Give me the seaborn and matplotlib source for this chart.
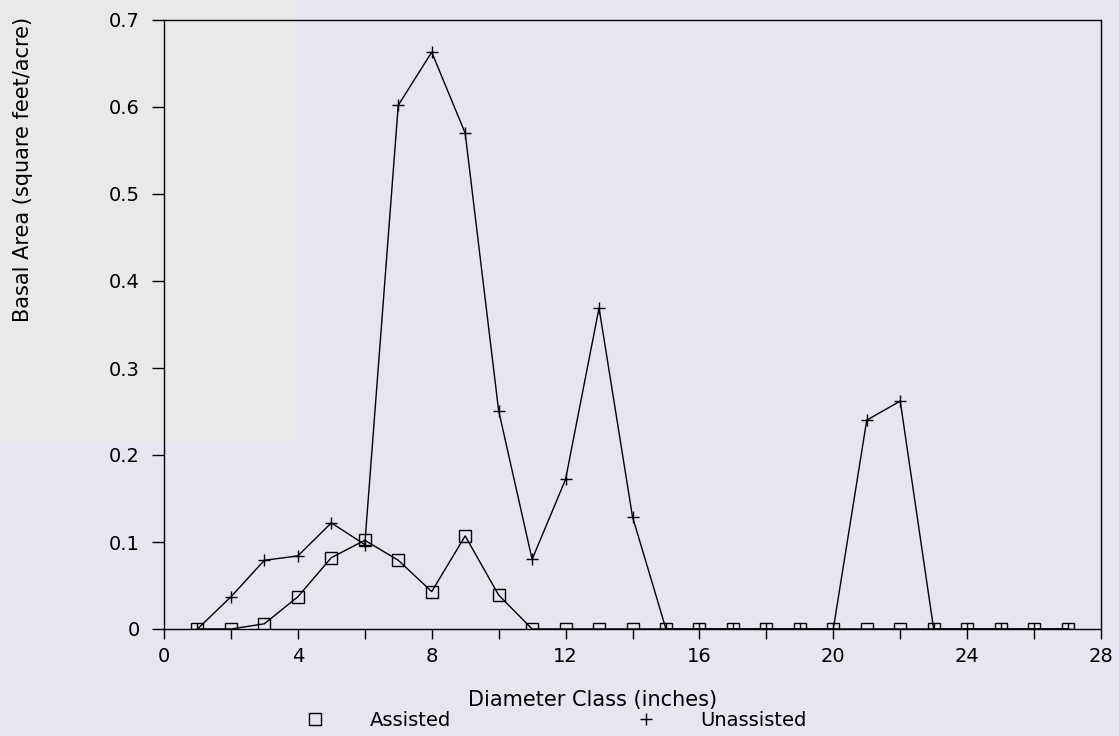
import matplotlib
matplotlib.use("Agg")
import matplotlib.pyplot as plt
import seaborn as sns
import pandas as pd
from matplotlib.lines import Line2D
from matplotlib.patches import Rectangle
from matplotlib.ticker import FuncFormatter, MultipleLocator

# Datos
diameter_class = list(range(1, 28))
assisted = [0, 0, 0.006, 0.037, 0.082, 0.102, 0.079, 0.043, 0.107, 0.039,
            0, 0, 0, 0, 0, 0, 0, 0, 0, 0, 0, 0, 0, 0, 0, 0, 0]
unassisted = [0, 0.037, 0.079, 0.084, 0.122, 0.097, 0.602, 0.663, 0.570, 0.251,
              0.080, 0.172, 0.369, 0.129, 0, 0, 0, 0, 0, 0, 0.240, 0.262, 0,
              0, 0, 0, 0]
series_names = ["Assisted", "Unassisted"]

df = pd.DataFrame({
    "Diameter": diameter_class * 2,
    "Basal": assisted + unassisted,
    "Serie": [series_names[0]] * len(diameter_class) + [series_names[1]] * len(diameter_class),
})

sns.set_theme(style="ticks")
plt.rcParams["font.family"] = ["DejaVu Sans"]

bg = "#e6e6f0"
fig = plt.figure(figsize=(11.19, 7.36), dpi=100, facecolor=bg)
# zona gris del escaneo (arriba a la izquierda)
fig.patches.append(Rectangle((0, 1 - 442 / 736), 296 / 1119, 442 / 736,
                             transform=fig.transFigure, facecolor="#e9e9e7",
                             edgecolor="none", zorder=-5))
ax = fig.add_axes([164 / 1119, 1 - 629 / 736, (1101 - 164) / 1119, (629 - 20) / 736])
ax.set_facecolor("none")

sns.lineplot(data=df[df["Serie"] == "Assisted"], x="Diameter", y="Basal", ax=ax,
             color="black", linewidth=1.0, marker="s", markersize=8,
             markerfacecolor="none", markeredgecolor="black", markeredgewidth=1.0,
             legend=False)
sns.lineplot(data=df[df["Serie"] == "Unassisted"], x="Diameter", y="Basal", ax=ax,
             color="black", linewidth=1.0, marker="+", markersize=9,
             markeredgecolor="black", markeredgewidth=1.0, legend=False)

ax.set_xlim(0, 28)
ax.set_ylim(0, 0.7)
ax.xaxis.set_major_locator(MultipleLocator(4))
ax.xaxis.set_minor_locator(MultipleLocator(2))
ax.yaxis.set_major_locator(MultipleLocator(0.1))
ax.yaxis.set_major_formatter(FuncFormatter(lambda v, p: "0" if abs(v) < 1e-9 else f"{v:.1f}"))

for s in ax.spines.values():
    s.set_visible(True)
    s.set_color("black")
    s.set_linewidth(1.0)

ax.tick_params(axis="y", which="major", direction="out", length=8.5, width=1.0,
               pad=9, labelsize=14, labelcolor="black", color="black")
ax.tick_params(axis="x", which="both", direction="out", length=7, width=1.0,
               pad=6, labelsize=14, labelcolor="black", color="black")

ax.set_xlabel("Diameter Class (inches)", fontsize=15, color="black", labelpad=14)
ax.xaxis.set_label_coords((593 - 164) / (1101 - 164), -0.1)
ax.set_ylabel("")
fig.text(23 / 1119, 1 - 169 / 736, "Basal Area (square feet/acre)", rotation=90,
         ha="center", va="center", fontsize=15, color="black")

handles = [
    Line2D([], [], linestyle="none", marker="s", markersize=8, markerfacecolor="none",
           markeredgecolor="black", markeredgewidth=1.0),
    Line2D([], [], linestyle="none", marker="+", markersize=8, color="black",
           markeredgewidth=1.0),
]
fig.legend(handles, series_names, loc="center", bbox_to_anchor=(556 / 1119, 1 - 720 / 736),
           ncol=2, frameon=False, fontsize=14, labelcolor="black", handlelength=1.0,
           handletextpad=2.3, columnspacing=9.5, borderpad=0)

fig.savefig("out.png", dpi=100, facecolor=bg)
